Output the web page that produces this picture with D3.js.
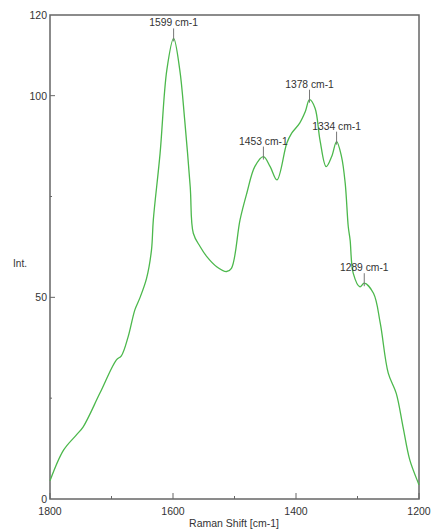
<!DOCTYPE html>
<html><head><meta charset="utf-8">
<script src="https://cdn.jsdelivr.net/npm/d3@7"></script>
<style>body{margin:0;background:#fff}text{font-family:"Liberation Sans",Arial,sans-serif}</style>
</head><body><svg id="c" width="440" height="532"></svg>
<script>
const shift = [1800,1778,1757,1746,1719,1692,1684,1673,1662,1654,1643,1635,1632,1621,1610,1599,1589,1581,1572,1567,1556,1545,1529,1513,1505,1491,1480,1467,1453,1442,1431,1415,1407,1394,1385,1378,1369,1361,1351,1342,1334,1326,1320,1315,1312,1307,1296,1289,1274,1263,1250,1237,1226,1215,1201,1200];
const intensity = [4.5,12.1,15.9,17.9,26.2,34.5,35.5,40.2,46.9,49.8,54.7,61.7,69.2,85.7,106.4,114.2,106.4,94,77.4,65.9,62.6,60.1,57.6,56.4,57.2,69.2,75.8,82.4,84.9,82.4,79.1,88.2,90.7,93.2,96,99,96.9,89,82.4,84.9,88.6,84.9,78.3,67.5,64.2,56,52.6,53.5,51,43.6,31.2,26.2,17.9,9.7,3.9,3.5];
const peakShift = [1599,1453,1378,1334,1289];
const peakValue = [114.2,84.9,99,88.6,53.5];
const peakLabels = ["1599 cm-1","1453 cm-1","1378 cm-1","1334 cm-1","1289 cm-1"];
const xTicks = [1800,1600,1400,1200];
const xMinor = [1700,1500,1300];
const yTicks = [0,50,100,120];
const yMinor = [25,75];

const svg = d3.select("#c");
const L=50,R=419,T=15,B=499;
const x = d3.scaleLinear().domain([1800,1200]).range([L,R]);
const y = d3.scaleLinear().domain([0,120]).range([B,T]);
const axisCol="#666", txtCol="#333";

svg.append("rect").attr("x",L).attr("y",T).attr("width",R-L).attr("height",B-T)
  .attr("fill","none").attr("stroke",axisCol).attr("stroke-width",1.5);

svg.selectAll(".xt").data(xTicks).join("line").attr("class","xt").attr("x1",d=>x(d)).attr("x2",d=>x(d))
  .attr("y1",B).attr("y2",B-6).attr("stroke",axisCol);
svg.selectAll(".xm").data(xMinor).join("line").attr("class","xm").attr("x1",d=>x(d)).attr("x2",d=>x(d))
  .attr("y1",B).attr("y2",B-3).attr("stroke",axisCol);
svg.selectAll(".xl").data(xTicks).join("text").attr("class","xl").attr("x",d=>x(d)).attr("y",515)
  .attr("text-anchor","middle").attr("font-size",10.5).attr("fill",txtCol).text(d=>d);
svg.selectAll(".yt").data(yTicks.filter(d=>d>0&&d<120)).join("line").attr("class","yt")
  .attr("x1",L).attr("x2",L+5).attr("y1",d=>y(d)).attr("y2",d=>y(d)).attr("stroke",axisCol);
svg.selectAll(".ym").data(yMinor).join("line").attr("class","ym")
  .attr("x1",L).attr("x2",L+2).attr("y1",d=>y(d)).attr("y2",d=>y(d)).attr("stroke",axisCol);
svg.selectAll(".yl").data(yTicks).join("text").attr("class","yl").attr("x",47).attr("y",d=>y(d)+4)
  .attr("text-anchor","end").attr("font-size",10.5).attr("fill",txtCol).text(d=>d);

svg.append("text").attr("x",20).attr("y",267).attr("text-anchor","middle").attr("font-size",10)
  .attr("fill",txtCol).text("Int.");
svg.append("text").attr("x",234).attr("y",527).attr("text-anchor","middle").attr("font-size",10.5)
  .attr("fill",txtCol).text("Raman Shift [cm-1]");

const pts = shift.map((s,i)=>[s,intensity[i]]);
svg.append("path").datum(pts).attr("fill","none").attr("stroke","#4cb84c").attr("stroke-width",1.3)
  .attr("d",d3.line().x(d=>x(d[0])).y(d=>y(d[1])).curve(d3.curveCatmullRom.alpha(0.5)));

peakShift.forEach((s,i)=>{
  const px=x(s), py=y(peakValue[i]);
  svg.append("line").attr("x1",px).attr("x2",px).attr("y1",py+3).attr("y2",py-10)
    .attr("stroke","#777").attr("stroke-width",1);
  svg.append("text").attr("x",px).attr("y",py-12).attr("text-anchor","middle").attr("font-size",10.3)
    .attr("fill",txtCol).text(peakLabels[i]);
});
</script></body></html>
